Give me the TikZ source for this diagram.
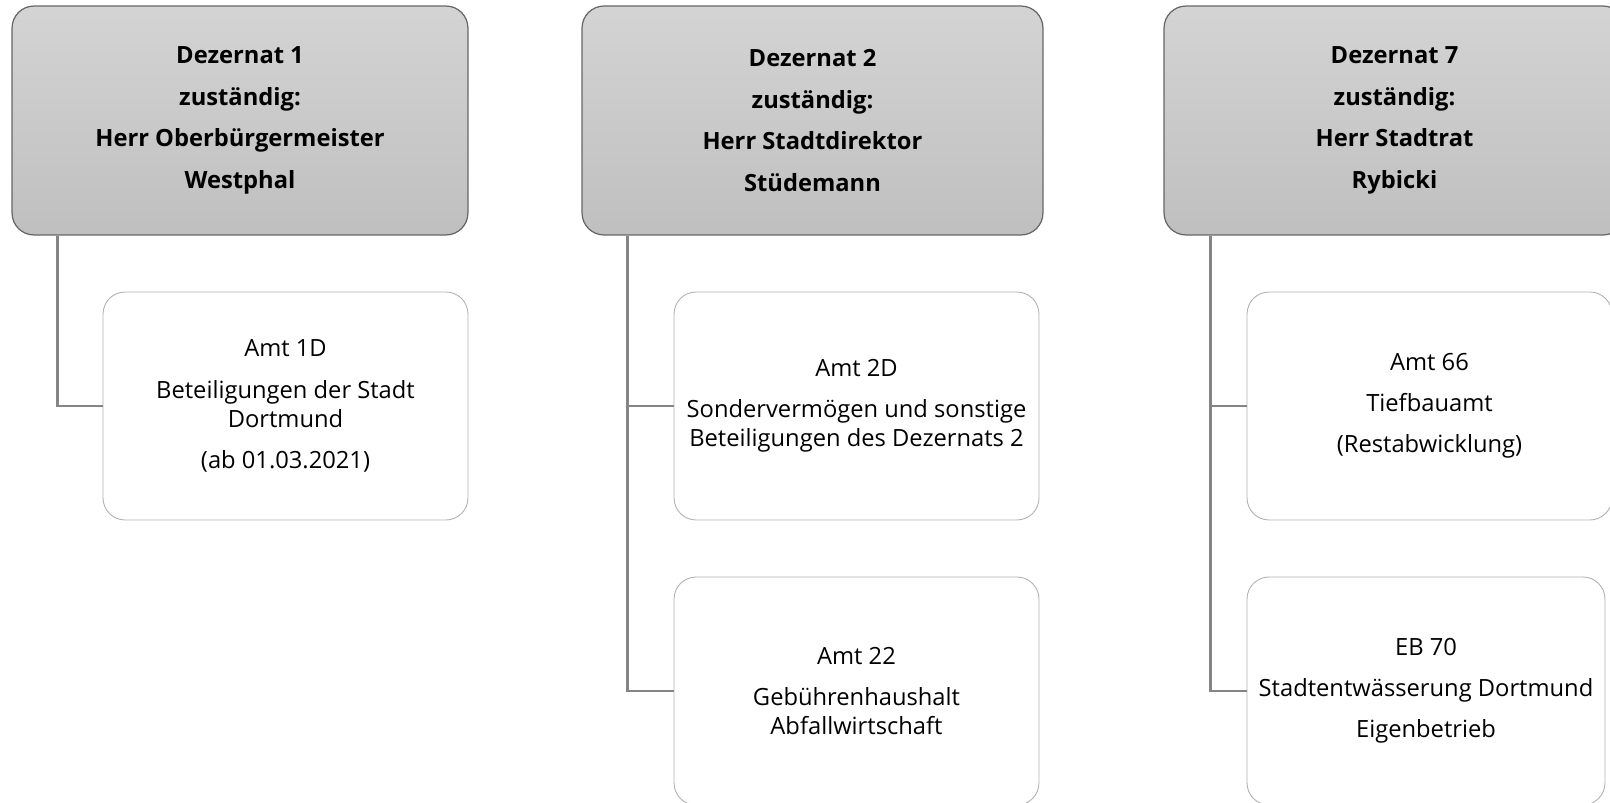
\documentclass[tikz,border=0pt]{standalone}
\usepackage{fontspec}
\setmainfont{Open Sans}
\usepackage{tikz}
\usetikzlibrary{%
  calc%
}

\begin{document}
\begin{tikzpicture}[x=0.02cm,y=-0.02cm,
  dez/.style={draw=black!60,line width=0.7pt,rounded corners=0.44cm,
    top color=black!17,bottom color=black!25,
    minimum height=4.58cm,inner sep=0pt,align=center,
    font=\bfseries\fontsize{13.5}{23.6}\selectfont},
  amt/.style={draw=black!30,line width=0.5pt,rounded corners=0.44cm,fill=white,
    minimum width=7.3cm,minimum height=4.56cm,inner sep=0pt,align=center,
    font=\fontsize{13.5}{16.6}\selectfont},
  conn/.style={draw=black!48,line width=1.6pt}]
\useasboundingbox (0,0) rectangle (1610,803);
\clip (0,0) rectangle (1610,803);
\node[dez,minimum width=9.12cm] (D1) at (240,120.5) {Dezernat 1\\zuständig:\\Herr Oberbürgermeister\\Westphal};
\node[dez,minimum width=9.22cm] (D2) at (812.5,120.5) {Dezernat 2\\zuständig:\\Herr Stadtdirektor\\Stüdemann};
\node[dez,minimum width=9.22cm] (D7) at (1394.5,120.5) {Dezernat 7\\zuständig:\\Herr Stadtrat\\Rybicki};
\node[amt] (A1D) at (285.5,406) {Amt 1D\\[6.8pt]Beteiligungen der Stadt\\Dortmund\\[6.8pt](ab 01.03.2021)};
\node[amt] (A2D) at (856.5,406) {Amt 2D\\[6.8pt]Sondervermögen und sonstige\\Beteiligungen des Dezernats 2};
\node[amt] (A22) at (856.5,691) {Amt 22\\[6.8pt]Gebührenhaushalt\\Abfallwirtschaft};
\node[amt] (A66) at (1429.5,406) {Amt 66\\[6.8pt]Tiefbauamt\\[6.8pt](Restabwicklung)};
\node[amt,minimum width=7.16cm] (EB70) at (1426,691) {EB 70\\[6.8pt]Stadtentwässerung Dortmund\\[6.8pt]Eigenbetrieb};
\draw[conn] ([xshift=0.92cm]D1.south west) |- (A1D.west);
\draw[conn] ([xshift=0.92cm]D2.south west) |- (A2D.west);
\draw[conn] ([xshift=0.92cm]D2.south west) |- (A22.west);
\draw[conn] ([xshift=0.94cm]D7.south west) |- (A66.west);
\draw[conn] ([xshift=0.94cm]D7.south west) |- (EB70.west);
\end{tikzpicture}
\end{document}
